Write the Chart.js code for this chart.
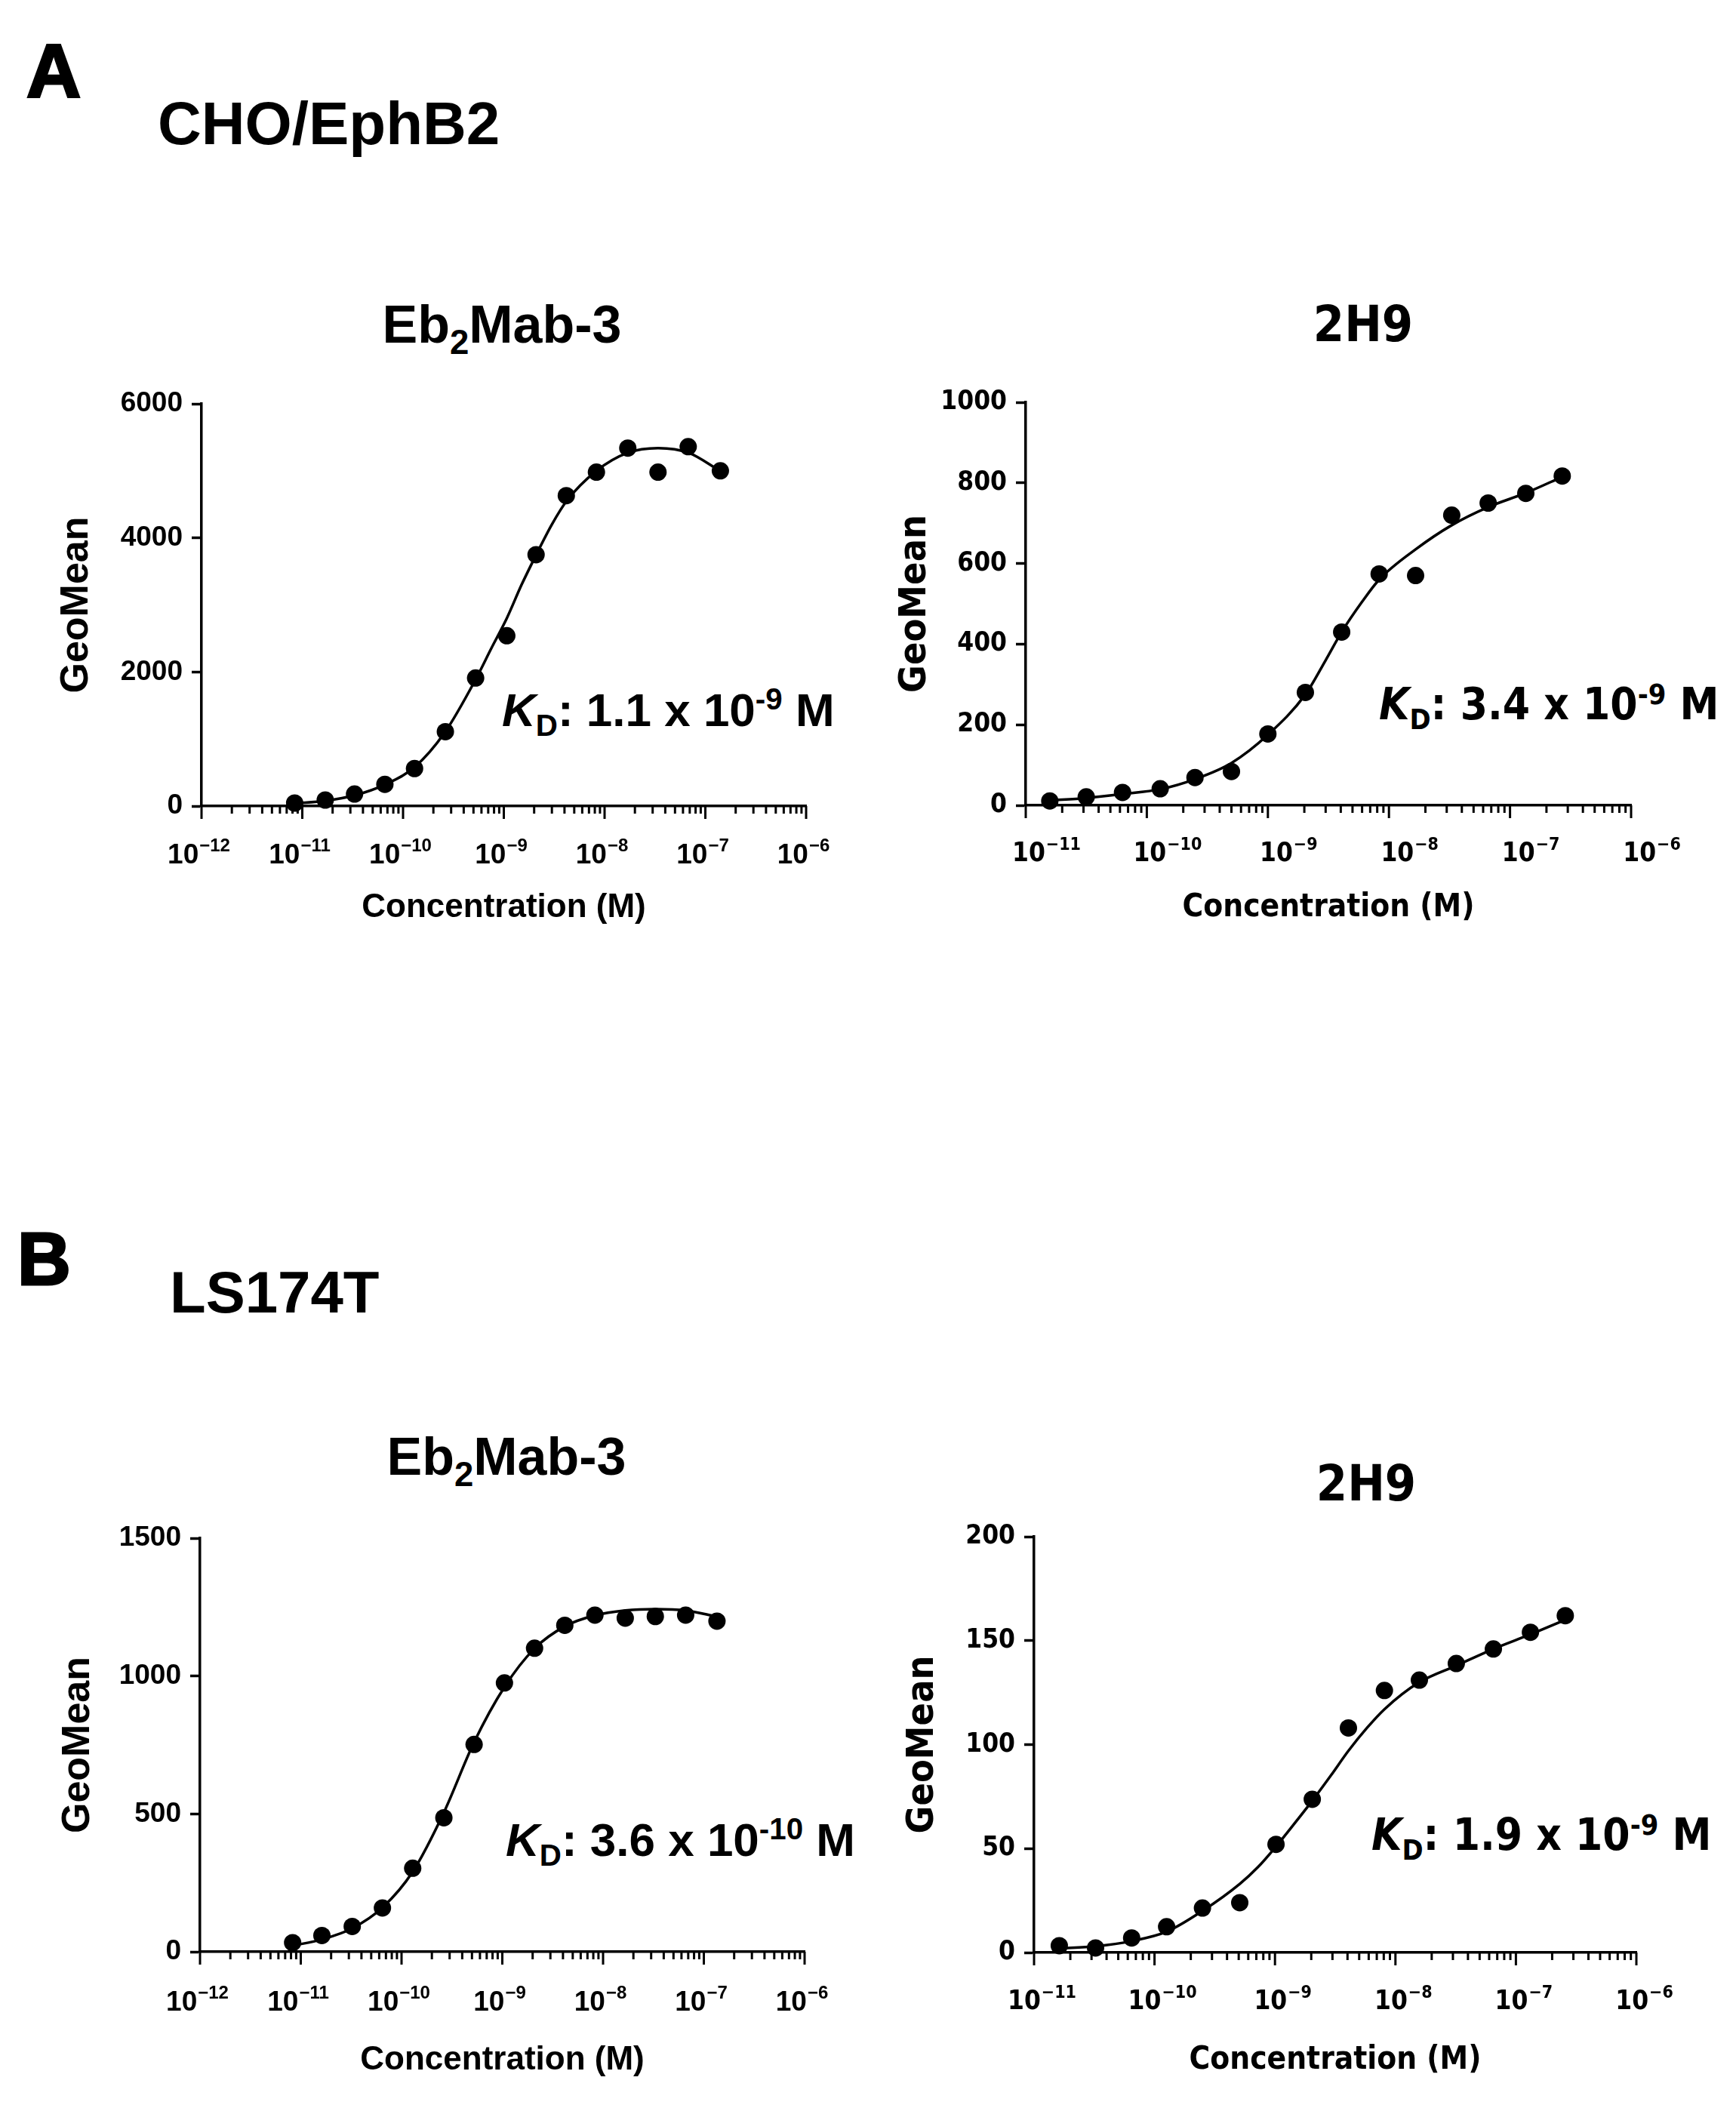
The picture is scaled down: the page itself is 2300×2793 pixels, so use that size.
<!DOCTYPE html>
<html lang="en">
<head>
<meta charset="UTF-8">
<title>EphB2 binding curves</title>
<script src="https://cdn.jsdelivr.net/npm/chart.js"></script>
<style>
    body {
        margin: 0;
        background: #fff;
    }
    #page {
        position: relative;
        width: 2300px;
        height: 2793px;
        background: #fff;
        overflow: hidden;
    }
    .txt {
        position: absolute;
        line-height: 1;
        white-space: nowrap;
        color: #000;
        font-weight: bold;
    }
    .wide { font-family: "Liberation Sans", Arial, sans-serif; }
    .narrow { font-family: "DejaVu Sans Condensed", "Liberation Sans Narrow", sans-serif; }
    .center { transform: translate(-50%, -50%); }
    .lefty { transform: translateY(-50%); }
    .panel { -webkit-text-stroke: 3px #000; }
    sub, sup { font-size: 0.65em; line-height: 0; }
    canvas { position: absolute; }
</style>
</head>
<body>
<div id="page">
    <div class="txt wide panel" style="left:35px;top:44px;font-size:100px;">A</div>
    <div class="txt wide lefty" style="left:209px;top:164px;font-size:80px;">CHO/EphB2</div>
    <div class="txt wide panel" style="left:23px;top:1619px;font-size:98px;">B</div>
    <div class="txt wide lefty" style="left:225px;top:1712px;font-size:78px;">LS174T</div>

    <div class="txt wide center" style="left:665px;top:430px;font-size:70px;">Eb<sub>2</sub>Mab-3</div>
    <div class="txt narrow center" style="left:1806px;top:430px;font-size:66px;">2H9</div>
    <div class="txt wide center" style="left:671px;top:1930px;font-size:70px;">Eb<sub>2</sub>Mab-3</div>
    <div class="txt narrow center" style="left:1810px;top:1966px;font-size:66px;">2H9</div>

    <div class="txt wide lefty" style="left:665px;top:941px;font-size:62px;"><i>K</i><sub>D</sub>: 1.1 x 10<sup>-9</sup> M</div>
    <div class="txt narrow lefty" style="left:1827px;top:933px;font-size:58px;"><i>K</i><sub>D</sub>: 3.4 x 10<sup>-9</sup> M</div>
    <div class="txt wide lefty" style="left:670px;top:2438px;font-size:62px;"><i>K</i><sub>D</sub>: 3.6 x 10<sup>-10</sup> M</div>
    <div class="txt narrow lefty" style="left:1817px;top:2431px;font-size:58px;"><i>K</i><sub>D</sub>: 1.9 x 10<sup>-9</sup> M</div>

    <canvas id="chartA1"></canvas>
    <canvas id="chartA2"></canvas>
    <canvas id="chartB1"></canvas>
    <canvas id="chartB2"></canvas>
</div>

<script>
    // ---- A: CHO/EphB2, Eb2Mab-3 ----
    const concA1 = [8.4e-12, 1.69e-11, 3.3e-11, 6.6e-11, 1.3e-10, 2.63e-10, 5.25e-10, 1.07e-9, 2.09e-9, 4.17e-9, 8.3e-9, 1.7e-8, 3.39e-8, 6.76e-8, 1.41e-7];
    const geoA1 = [45, 90, 180, 324, 560, 1110, 1910, 2540, 3750, 4630, 4980, 5340, 4980, 5360, 5000];
    const fitConcA1 = [8.4e-12, 1.7e-11, 3.3e-11, 6.6e-11, 1.3e-10, 2.6e-10, 5.3e-10, 7.5e-10, 1.07e-9, 1.5e-9, 2.1e-9, 3e-9, 4.2e-9, 8.3e-9, 1.7e-8, 3.4e-8, 6.8e-8, 1.4e-7];
    const fitGeoA1 = [40, 80, 160, 320, 580, 1100, 1900, 2350, 2800, 3300, 3750, 4200, 4550, 5000, 5270, 5340, 5270, 5000];
    const decadesA1 = [-12, -11, -10, -9, -8, -7, -6];
    const yTicksA1 = [0, 2000, 4000, 6000];

    // ---- A: CHO/EphB2, 2H9 ----
    const concA2 = [1.58e-11, 3.16e-11, 6.3e-11, 1.29e-10, 2.5e-10, 5.0e-10, 1.0e-9, 2.04e-9, 4.07e-9, 8.3e-9, 1.66e-8, 3.3e-8, 6.6e-8, 1.35e-7, 2.7e-7];
    const geoA2 = [11, 21, 32, 41, 69, 84, 177, 280, 430, 574, 570, 720, 750, 774, 817];
    const fitConcA2 = [1.58e-11, 3.16e-11, 6.3e-11, 1.29e-10, 2.5e-10, 5e-10, 1e-9, 2.04e-9, 3e-9, 4.07e-9, 6e-9, 8.3e-9, 1.66e-8, 3.3e-8, 6.6e-8, 1.35e-7, 2.7e-7];
    const fitGeoA2 = [12, 18, 28, 40, 65, 105, 175, 275, 360, 430, 505, 560, 635, 695, 740, 775, 815];
    const decadesA2 = [-11, -10, -9, -8, -7, -6];
    const yTicksA2 = [0, 200, 400, 600, 800, 1000];

    // ---- B: LS174T, Eb2Mab-3 ----
    const concB1 = [8.3e-12, 1.62e-11, 3.24e-11, 6.46e-11, 1.29e-10, 2.63e-10, 5.25e-10, 1.05e-9, 2.09e-9, 4.17e-9, 8.3e-9, 1.66e-8, 3.3e-8, 6.6e-8, 1.35e-7];
    const geoB1 = [33, 59, 92, 159, 303, 486, 752, 975, 1101, 1184, 1221, 1210, 1216, 1221, 1199];
    const fitConcB1 = [8.3e-12, 1.62e-11, 3.24e-11, 6.46e-11, 1.29e-10, 2.63e-10, 5.25e-10, 1.05e-9, 2.09e-9, 4.17e-9, 8.3e-9, 1.66e-8, 3.3e-8, 6.6e-8, 1.35e-7];
    const fitGeoB1 = [22, 45, 85, 160, 290, 505, 760, 960, 1100, 1180, 1220, 1238, 1243, 1238, 1215];
    const decadesB1 = [-12, -11, -10, -9, -8, -7, -6];
    const yTicksB1 = [0, 500, 1000, 1500];

    // ---- B: LS174T, 2H9 ----
    const concB2 = [1.62e-11, 3.24e-11, 6.46e-11, 1.26e-10, 2.5e-10, 5.1e-10, 1.02e-9, 2.04e-9, 4.07e-9, 8.1e-9, 1.58e-8, 3.2e-8, 6.5e-8, 1.32e-7, 2.57e-7];
    const geoB2 = [3.3, 2.2, 7, 12.4, 21.4, 24, 52, 73.7, 108, 126, 131, 139, 146, 154, 162];
    const fitConcB2 = [1.62e-11, 3.24e-11, 6.46e-11, 1.26e-10, 2.5e-10, 5.1e-10, 7.2e-10, 1.02e-9, 1.45e-9, 2.04e-9, 2.9e-9, 4.07e-9, 5.8e-9, 8.1e-9, 1.58e-8, 3.2e-8, 6.5e-8, 1.32e-7, 2.57e-7];
    const fitGeoB2 = [2, 3, 5.5, 10, 20, 33, 41, 51, 62, 73, 85, 97, 108, 117, 130, 138, 146, 153, 160];
    const decadesB2 = [-11, -10, -9, -8, -7, -6];
    const yTicksB2 = [0, 50, 100, 150, 200];

    const WIDE = '"Liberation Sans", Arial, sans-serif';
    const NARROW = '"DejaVu Sans Condensed", "Liberation Sans Narrow", sans-serif';

    function isPow10(v) {
        const l = Math.log10(v);
        return Math.abs(l - Math.round(l)) < 1e-6;
    }

    function logTicks(decades) {
        const ticks = [];
        for (let i = 0; i < decades.length - 1; i++) {
            for (let m = 1; m <= 9; m++) {
                ticks.push({value: m * Math.pow(10, decades[i])});
            }
        }
        ticks.push({value: Math.pow(10, decades[decades.length - 1])});
        return ticks;
    }

    function toPoints(xs, ys) {
        return xs.map((x, i) => ({x: x, y: ys[i]}));
    }

    // long/short log tick marks under the x axis + "10^n" labels with a real superscript
    const logAxis = {
        id: 'logAxis',
        afterDraw(chart, args, opts) {
            const sc = chart.scales.x;
            const ctx = chart.ctx;
            ctx.save();
            ctx.strokeStyle = '#000';
            ctx.fillStyle = '#000';
            ctx.lineWidth = 3;
            sc.ticks.forEach(t => {
                const px = sc.getPixelForValue(t.value);
                const major = isPow10(t.value);
                ctx.beginPath();
                ctx.moveTo(px, sc.top);
                ctx.lineTo(px, sc.top + (major ? 17 : 10));
                ctx.stroke();
                if (!major) return;
                const base = '10';
                const exp = '\u2212' + Math.abs(Math.round(Math.log10(t.value)));
                const big = 'bold ' + opts.size + 'px ' + opts.family;
                const small = 'bold ' + Math.round(opts.size * 0.65) + 'px ' + opts.family;
                ctx.font = big;
                const w1 = ctx.measureText(base).width;
                ctx.font = small;
                const w2 = ctx.measureText(exp).width;
                const x0 = px - (w1 + w2) / 2 + opts.shift;
                const yb = sc.top + opts.offset;
                ctx.textBaseline = 'alphabetic';
                ctx.textAlign = 'left';
                ctx.font = big;
                ctx.fillText(base, x0, yb);
                ctx.font = small;
                ctx.fillText(exp, x0 + w1 + 1, yb - opts.size * 0.42);
            });
            ctx.restore();
        }
    };

    function makeChart(id, box, d) {
        const canvas = document.getElementById(id);
        canvas.width = box.w;
        canvas.height = box.h;
        canvas.style.left = box.left + 'px';
        canvas.style.top = box.top + 'px';
        canvas.style.width = box.w + 'px';
        canvas.style.height = box.h + 'px';

        const fam = d.narrow ? NARROW : WIDE;

        return new Chart(canvas.getContext('2d'), {
            type: 'scatter',
            data: {
                datasets: [{
                    data: toPoints(d.conc, d.geo),
                    pointRadius: 11.5,
                    pointHoverRadius: 11.5,
                    pointBackgroundColor: '#000',
                    pointBorderColor: '#000',
                    pointBorderWidth: 0,
                    showLine: false,
                    clip: false
                }, {
                    data: toPoints(d.fitConc, d.fitGeo),
                    showLine: true,
                    pointRadius: 0,
                    borderColor: '#000',
                    borderWidth: 3.5,
                    cubicInterpolationMode: 'monotone',
                    clip: false
                }]
            },
            options: {
                responsive: false,
                animation: false,
                devicePixelRatio: 1,
                layout: {padding: {top: box.padTop, right: box.padRight, bottom: 0, left: 0}},
                plugins: {
                    legend: {display: false},
                    tooltip: {enabled: false},
                    logAxis: {size: d.tickSize, family: fam, offset: d.labelBase, shift: d.labelShift}
                },
                scales: {
                    x: {
                        type: 'logarithmic',
                        min: Math.pow(10, d.decades[0]),
                        max: Math.pow(10, d.decades[d.decades.length - 1]),
                        afterBuildTicks: (scale) => { scale.ticks = logTicks(d.decades); },
                        afterFit: (scale) => { scale.height = box.xh; },
                        grid: {display: false, drawTicks: false},
                        border: {display: true, color: '#000', width: 3.5},
                        ticks: {display: false, autoSkip: false},
                        title: {
                            display: true,
                            text: 'Concentration (M)',
                            color: '#000',
                            font: {family: fam, size: d.xTitleSize, weight: 'bold'}
                        }
                    },
                    y: {
                        min: d.yTicks[0],
                        max: d.yTicks[d.yTicks.length - 1],
                        afterBuildTicks: (scale) => { scale.ticks = d.yTicks.map(v => ({value: v})); },
                        afterFit: (scale) => { scale.width = box.yw; },
                        grid: {display: true, drawOnChartArea: false, drawTicks: true, tickLength: 13, tickWidth: 3.5, tickColor: '#000'},
                        border: {display: true, color: '#000', width: 3.5},
                        ticks: {
                            padding: 12,
                            color: '#000',
                            font: {family: fam, size: d.tickSize, weight: 'bold'},
                            callback: (v) => String(v)
                        },
                        title: {
                            display: true,
                            text: 'GeoMean',
                            color: '#000',
                            font: {family: fam, size: d.yTitleSize, weight: 'bold'}
                        }
                    }
                }
            },
            plugins: [logAxis]
        });
    }

    makeChart('chartA1',
        {left: 66, top: 480, w: 1092, h: 753, padTop: 55, padRight: 90, yw: 201, xh: 165},
        {conc: concA1, geo: geoA1, fitConc: fitConcA1, fitGeo: fitGeoA1, decades: decadesA1, yTicks: yTicksA1,
         narrow: false, tickSize: 37, xTitleSize: 44, yTitleSize: 52, labelBase: 76, labelShift: -4});

    makeChart('chartA2',
        {left: 1179, top: 480, w: 1082, h: 752, padTop: 53, padRight: 100, yw: 180, xh: 165},
        {conc: concA2, geo: geoA2, fitConc: fitConcA2, fitGeo: fitGeoA2, decades: decadesA2, yTicks: yTicksA2,
         narrow: true, tickSize: 35, xTitleSize: 42, yTitleSize: 50, labelBase: 74, labelShift: 27});

    makeChart('chartB1',
        {left: 68, top: 1980, w: 1078, h: 780, padTop: 58, padRight: 80, yw: 197, xh: 174},
        {conc: concB1, geo: geoB1, fitConc: fitConcB1, fitGeo: fitGeoB1, decades: decadesB1, yTicks: yTicksB1,
         narrow: false, tickSize: 37, xTitleSize: 44, yTitleSize: 52, labelBase: 78, labelShift: -4});

    makeChart('chartB2',
        {left: 1189, top: 1980, w: 1069, h: 779, padTop: 56, padRight: 90, yw: 181, xh: 172},
        {conc: concB2, geo: geoB2, fitConc: fitConcB2, fitGeo: fitGeoB2, decades: decadesB2, yTicks: yTicksB2,
         narrow: true, tickSize: 35, xTitleSize: 42, yTitleSize: 50, labelBase: 75, labelShift: 10});
</script>
</body>
</html>
